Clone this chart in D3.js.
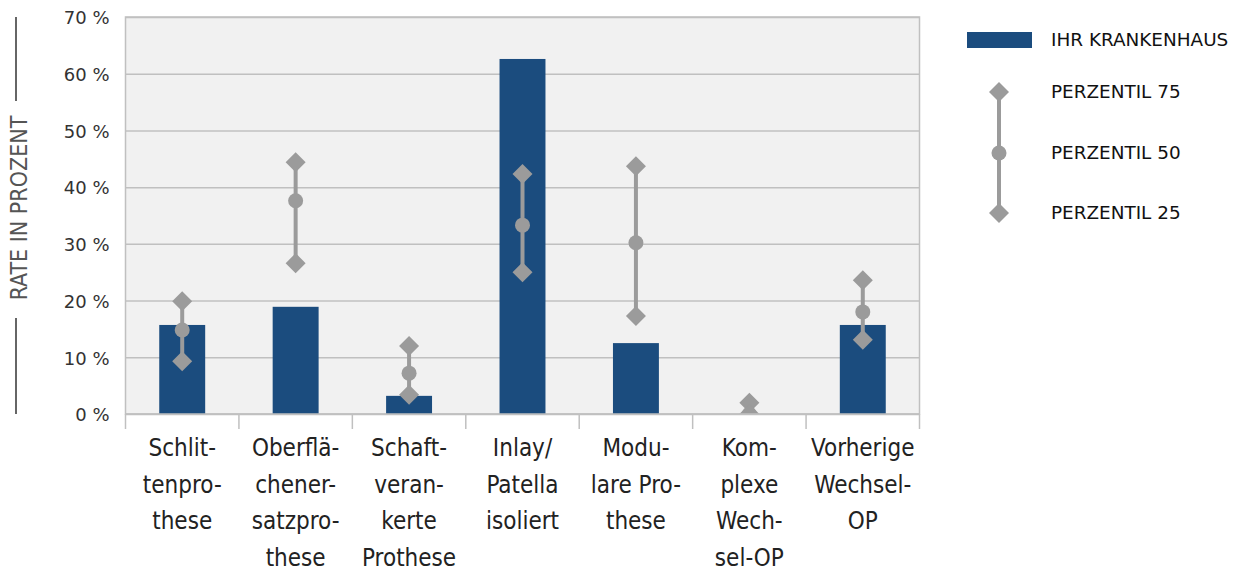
<!DOCTYPE html>
<html><head><meta charset="utf-8">
<script src="https://cdn.jsdelivr.net/npm/d3@7"></script>
<style>body{margin:0;background:#fff}svg{display:block}</style>
</head><body>
<script>
const categories = [
  ["Schlit-","tenpro-","these"],
  ["Oberflä-","chener-","satzpro-","these"],
  ["Schaft-","veran-","kerte","Prothese"],
  ["Inlay/","Patella","isoliert"],
  ["Modu-","lare Pro-","these"],
  ["Kom-","plexe","Wech-","sel-OP"],
  ["Vorherige","Wechsel-","OP"]
];
const hospital = [15.7, 18.9, 3.2, 62.6, 12.5, 0, 15.7];
const p75 = [19.9, 44.4, 12.0, 42.3, 43.7, 2.0, 23.6];
const p50 = [14.8, 37.6, 7.2, 33.3, 30.2, 0, 18.0];
const p25 = [9.3, 26.6, 3.4, 25.0, 17.3, 0, 13.1];
const yTicks = [0,10,20,30,40,50,60,70];
const legendLabels = ["IHR KRANKENHAUS","PERZENTIL 75","PERZENTIL 50","PERZENTIL 25"];

const W=1238,H=573;
const m={l:125.5,r:919.5,t:17,b:414};
const svg=d3.select("body").append("svg").attr("width",W).attr("height",H);
const idx=d3.range(categories.length);
const x=d3.scaleBand().domain(idx).range([m.l,m.r]).paddingInner(0).paddingOuter(0);
const y=d3.scaleLinear().domain([0,70]).range([m.b,m.t]);
const cfont="'DejaVu Sans Condensed','DejaVu Sans',sans-serif";
const font="'DejaVu Sans',sans-serif";
const grey="#9b9b9b", blue="#1b4c7e";

svg.append("defs").append("clipPath").attr("id","pc").append("rect")
  .attr("x",m.l).attr("y",m.t-20).attr("width",m.r-m.l).attr("height",m.b-m.t+20);

svg.append("rect").attr("x",m.l).attr("y",m.t).attr("width",m.r-m.l).attr("height",m.b-m.t)
  .attr("fill","#f1f1f1");
// grid
const ga=svg.append("g").attr("transform",`translate(${m.l},0)`)
  .call(d3.axisLeft(y).tickValues(yTicks).tickSize(-(m.r-m.l)).tickFormat(d=>d+" %"));
ga.select(".domain").remove();
ga.selectAll(".tick line").attr("stroke","#c0c0c0").attr("stroke-width",1.5);
ga.selectAll(".tick text").attr("x",-16).attr("dy","0.38em").attr("font-family",font).attr("font-size",18).attr("fill","#333");
// plot border
svg.append("rect").attr("x",m.l).attr("y",m.t).attr("width",m.r-m.l).attr("height",m.b-m.t)
  .attr("fill","none").attr("stroke","#c0c0c0").attr("stroke-width",1.5);

// bars
const pg=svg.append("g").attr("clip-path","url(#pc)");
const bw=x.bandwidth()*0.405;
pg.selectAll("rect.bar").data(idx).join("rect").attr("class","bar")
  .attr("x",i=>x(i)+x.bandwidth()/2-bw/2).attr("width",bw)
  .attr("y",i=>y(hospital[i])).attr("height",i=>y(0)-y(hospital[i])).attr("fill",blue);

// percentile whiskers
const cx=i=>x(i)+x.bandwidth()/2;
pg.selectAll("line.wh").data(idx).join("line")
  .attr("x1",cx).attr("x2",cx).attr("y1",i=>y(p75[i])).attr("y2",i=>y(p25[i]))
  .attr("stroke",grey).attr("stroke-width",4);
function dia(g,px,py){
  g.append("path").attr("d","M0,-10L10,0L0,10L-10,0Z").attr("transform",`translate(${px},${py})`).attr("fill",grey);
}
idx.forEach(i=>{
  dia(pg,cx(i),y(p75[i]));
  dia(pg,cx(i),y(p25[i]));
  pg.append("circle").attr("cx",cx(i)).attr("cy",y(p50[i])).attr("r",7.5).attr("fill",grey);
});

// bottom axis
const gx=svg.append("g");
gx.append("line").attr("x1",m.l).attr("x2",m.r).attr("y1",m.b).attr("y2",m.b).attr("stroke","#c0c0c0").attr("stroke-width",1.5);
d3.range(categories.length+1).forEach(k=>{
  const xx = k<categories.length ? x(k) : m.r;
  gx.append("line").attr("x1",xx).attr("x2",xx).attr("y1",m.b).attr("y2",m.b+15).attr("stroke","#c0c0c0").attr("stroke-width",1.5);
});
idx.forEach(i=>{
  const t=gx.append("text").attr("x",cx(i)).attr("y",455).attr("text-anchor","middle")
    .attr("font-family",cfont).attr("font-size",24).attr("fill","#222");
  categories[i].forEach((ln,j)=>t.append("tspan").attr("x",cx(i)).attr("y",456+j*36.5).text(ln));
});

// y title
svg.append("text").attr("transform","translate(27,208) rotate(-90)").attr("text-anchor","middle")
  .attr("font-family",cfont).attr("font-size",23).attr("fill","#555").text("RATE IN PROZENT");
svg.append("line").attr("x1",16).attr("x2",16).attr("y1",17).attr("y2",101).attr("stroke","#666").attr("stroke-width",2);
svg.append("line").attr("x1",16).attr("x2",16).attr("y1",318).attr("y2",414).attr("stroke","#666").attr("stroke-width",2);

// legend
const lg=svg.append("g");
lg.append("rect").attr("x",967).attr("y",32).attr("width",65).attr("height",16).attr("fill",blue);
lg.append("line").attr("x1",999).attr("x2",999).attr("y1",92).attr("y2",213).attr("stroke",grey).attr("stroke-width",4);
dia(lg,999,92); dia(lg,999,213);
lg.append("circle").attr("cx",999).attr("cy",153).attr("r",7.5).attr("fill",grey);
const ly=[40,92,153,213];
legendLabels.forEach((t,k)=>{
  lg.append("text").attr("x",1051).attr("y",ly[k]).attr("dy","0.35em").attr("font-family",font)
    .attr("font-size",18.4).attr("fill","#111").text(t);
});
</script>
</body></html>
